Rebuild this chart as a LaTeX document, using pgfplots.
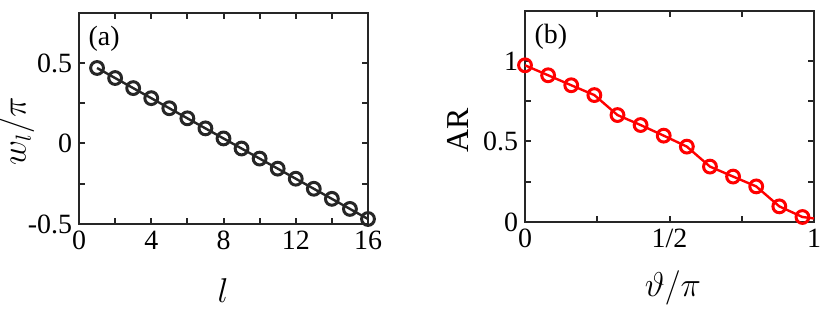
\documentclass[border=0pt]{standalone}
\usepackage{fontspec}
\setmainfont{Liberation Serif}
\usepackage{pgfplots}
\pgfplotsset{compat=1.18}

\definecolor{axgray}{RGB}{38,38,38}
\definecolor{matred}{RGB}{255,0,0}

\pgfplotsset{
  panel/.style={
    scale only axis,
    width=144.5bp, height=105.5bp,
    axis line style={axgray, line width=1.2bp},
    every tick/.style={axgray, line width=1bp},
    major tick length=3bp, minor tick length=3bp,
    tick align=inside,
    /pgf/number format/assume math mode=true,
    ticklabel style={font=\fontsize{14}{16}\selectfont, text=black},
    label style={font=\fontsize{16}{18}\selectfont},
    minor tick num=1,
    clip=false,
  },
}

\begin{document}
\begin{tikzpicture}
\useasboundingbox (0,0) rectangle (415bp,-162.5bp);

% (a)
\begin{axis}[panel,
  at={(39.5bp,-6.5bp)}, anchor=north west,
  xmin=0, xmax=16, ymin=-0.5, ymax=0.81,
  xtick={0,4,8,12,16}, xticklabels={0,4,8,12,16},
  ytick={-0.5,0,0.5}, yticklabels={-0.5,0,0.5},
  xlabel={$l$}, ylabel={$w_l/\pi$},
  xlabel style={at={(axis description cs:0.498,-0.374)}, anchor=base},
  ylabel style={at={(axis description cs:-0.2145,0.44)}, anchor=center,
    inner sep=0pt},
]
\addplot[axgray, line width=1.2bp, mark=o, mark size=3.2bp,
  mark options={fill=white, line width=1.5bp}] coordinates {
  (1,0.46875) (2,0.40625) (3,0.34375) (4,0.28125)
  (5,0.21875) (6,0.15625) (7,0.09375) (8,0.03125)
  (9,-0.03125) (10,-0.09375) (11,-0.15625) (12,-0.21875)
  (13,-0.28125) (14,-0.34375) (15,-0.40625) (16,-0.46875)
};
\node[anchor=north west, font=\fontsize{14}{16}\selectfont, inner sep=1bp]
  at (axis description cs:0.025,0.95) {(a)};
\end{axis}

% (b)
\begin{axis}[panel,
  at={(262.5bp,-5.5bp)}, anchor=north west,
  xmin=0, xmax=1, ymin=0, ymax=1.31,
  xtick={0,0.5,1}, xticklabels={0,1/2,1},
  ytick={0,0.5,1}, yticklabels={0,0.5,1},
  xlabel={$\vartheta/\pi$}, ylabel={AR},
  xlabel style={at={(axis description cs:0.512,-0.355)}, anchor=base},
  ylabel style={at={(axis description cs:-0.232,0.436)}, anchor=center},
]
\addplot[matred, line width=1.2bp, mark=o, mark size=3.2bp,
  mark indices={1,2,3,4,5,6,7,8,9,10,11,12,13},
  mark options={fill=white, line width=1.5bp}] coordinates {
  (0,0.973) (0.08,0.911) (0.16,0.849) (0.24,0.788)
  (0.32,0.664) (0.40,0.602) (0.48,0.536) (0.56,0.468)
  (0.64,0.344) (0.72,0.282) (0.80,0.221) (0.88,0.097)
  (0.96,0.031) (1.0,0.022)
};
\node[anchor=north west, font=\fontsize{14}{16}\selectfont, inner sep=1bp]
  at (axis description cs:0.025,0.95) {(b)};
\end{axis}
\end{tikzpicture}
\end{document}
